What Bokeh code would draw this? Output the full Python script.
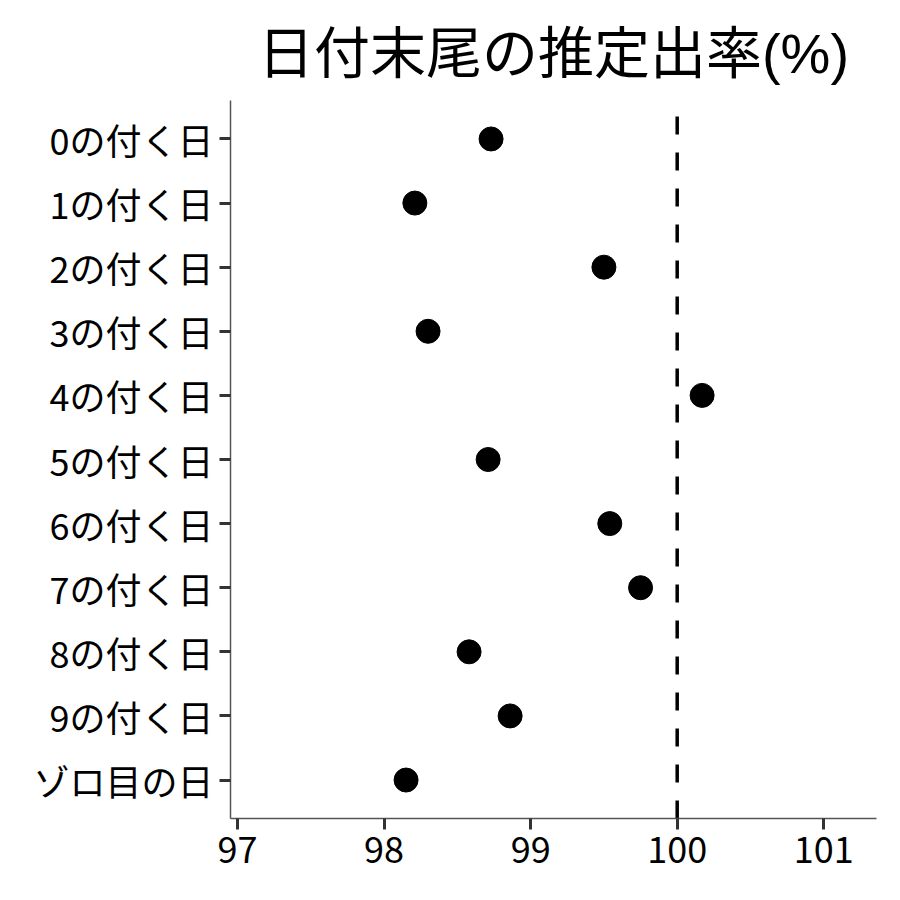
from bokeh.plotting import figure
from bokeh.models import Range1d, FixedTicker, ColumnDataSource, Title
from bokeh.embed import file_html
from bokeh.resources import INLINE

title_text = "日付末尾の推定出率(%)"
categories = ["0の付く日", "1の付く日", "2の付く日", "3の付く日", "4の付く日",
              "5の付く日", "6の付く日", "7の付く日", "8の付く日", "9の付く日", "ゾロ目の日"]
rates = [98.73, 98.21, 99.50, 98.30, 100.17, 98.71, 99.54, 99.75, 98.58, 98.86, 98.15]
reference_rate = 100
x_ticks = [97, 98, 99, 100, 101]

FONT = "Noto Sans CJK JP"
pos = list(range(len(categories)))

p = figure(width=892, height=892, output_backend="svg", toolbar_location=None,
           x_range=Range1d(96.952, 101.36),
           y_range=Range1d(len(categories) - 0.4, -0.6),
           min_border_left=230, min_border_right=16, min_border_top=100, min_border_bottom=74)

src = ColumnDataSource(dict(x=rates, y=pos))

p.segment(x0=[reference_rate], y0=[len(categories) - 0.4], x1=[reference_rate], y1=[-0.6],
          line_color="black", line_width=3.5, line_dash="18 18")
p.scatter("x", "y", source=src, size=24, color="black")

p.title = Title(text=title_text, align="center",
                text_font="Liberation Sans, Noto Sans CJK JP",
                text_font_size="56px", text_font_style="normal", text_color="black")
p.title.standoff = 32

p.xaxis.ticker = FixedTicker(ticks=x_ticks)
p.yaxis.ticker = FixedTicker(ticks=pos)
p.yaxis.major_label_overrides = {i: c for i, c in enumerate(categories)}

for ax in (p.xaxis, p.yaxis):
    ax.axis_line_color = "#555555"
    ax.axis_line_width = 1.5
    ax.major_tick_line_color = "#333333"
    ax.major_tick_line_width = 3
    ax.major_tick_out = 11
    ax.major_tick_in = 0
    ax.minor_tick_line_color = None
    ax.major_label_text_font = FONT
    ax.major_label_text_font_size = "36px"
    ax.major_label_text_color = "black"
p.xaxis.major_label_standoff = 7
p.yaxis.major_label_standoff = 6

p.xgrid.grid_line_color = None
p.ygrid.grid_line_color = None
p.outline_line_color = None
p.background_fill_color = "white"
p.border_fill_color = "white"

open("out.html", "w").write(file_html(p, INLINE))
